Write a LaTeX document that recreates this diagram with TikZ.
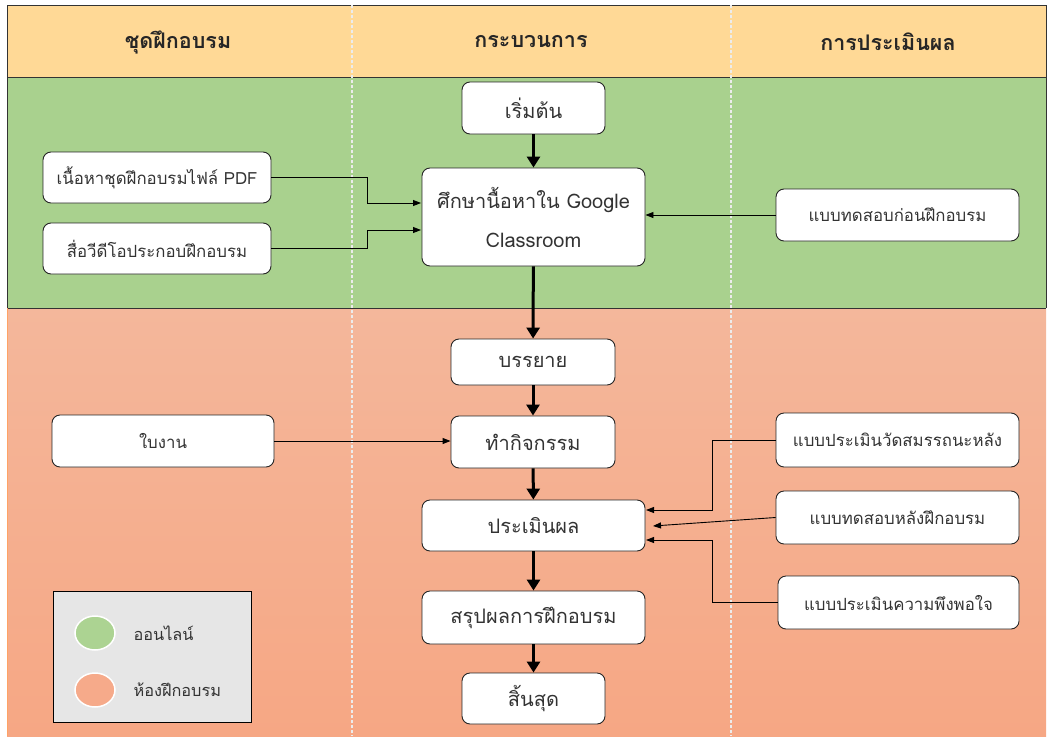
\documentclass[tikz,border=0pt]{standalone}
\usepackage{fontspec}
\usetikzlibrary{arrows.meta,positioning,shapes.geometric}
\newfontfamily\thai[Script=Thai]{Loma}
\definecolor{hdr}{RGB}{255,217,150}
\definecolor{grn}{RGB}{169,209,142}
\definecolor{salT}{RGB}{244,183,155}
\definecolor{salB}{RGB}{246,167,132}
\definecolor{lgd}{RGB}{230,230,230}
\definecolor{lgrn}{RGB}{172,211,146}
\definecolor{lsal}{RGB}{246,170,138}
\tikzset{
  box/.style={draw=black!85,fill=white,rounded corners=8pt,line width=0.9pt,align=center,inner sep=0pt,font=\thai\fontsize{16.8}{38}\selectfont,text=black!80},
  cbox/.style={box,font=\thai\fontsize{20}{39}\selectfont},
  flow/.style={line width=3pt,-{Triangle[length=11pt,width=13pt]}},
  link/.style={line width=0.9pt,-{Triangle[length=8pt,width=6pt]}},
  hdrtext/.style={font=\thai\bfseries\fontsize{21.5}{24}\selectfont,text=black!85},
  sep/.style={white!85!gray,line width=2pt,dash pattern=on 2.5pt off 2.5pt},
}
\begin{document}
\begin{tikzpicture}[x=1pt,y=-1pt]
\useasboundingbox (0,0) rectangle (1049,736);
% backgrounds
\fill[hdr] (7,5) rectangle (1046,77);
\fill[grn] (7,77) rectangle (1046,308);
\shade[top color=salT,bottom color=salB] (7,308) rectangle (1046,736);
\draw[black!80,line width=1pt] (7,77) -- (1046,77);
\draw[black!80,line width=1pt] (7,308) -- (1046,308);
\draw[black!80,line width=1pt] (7,308) |- (7,5) -| (1046,308);
\draw[orange!80!red!60,line width=1pt] (7,308) -- (7,736);
% column separators
\draw[sep] (352,5) -- (352,736);
\draw[sep] (731,5) -- (731,736);
% headers
\node[hdrtext] (h1) at (178,42) {ชุดฝึกอบรม};
\node[hdrtext] (h2) at (531,42) {กระบวนการ};
\node[hdrtext] (h3) at (888,42) {การประเมินผล};
% center flow
\node[cbox,minimum width=143pt,minimum height=52pt] (start) at (533.5,108) {เริ่มต้น};
\node[cbox,minimum width=223pt,minimum height=98pt] (study) at (533.5,217) {ศึกษานื้อหาใน Google\\Classroom};
\node[cbox,minimum width=164pt,minimum height=46pt] (lect) at (533,362) {บรรยาย};
\node[cbox,minimum width=164pt,minimum height=52pt] (act) at (533,442) {ทำกิจกรรม};
\node[cbox,minimum width=223pt,minimum height=51pt] (eval) at (533.5,525.5) {ประเมินผล};
\node[cbox,minimum width=223pt,minimum height=53pt] (sum) at (533.5,617.5) {สรุปผลการฝึกอบรม};
\node[cbox,minimum width=143pt,minimum height=51pt] (end) at (533.5,698.5) {สิ้นสุด};
% left
\node[box,minimum width=228pt,minimum height=51pt] (pdf) at (157,177.5) {เนื้อหาชุดฝึกอบรมไฟล์ PDF};
\node[box,minimum width=228pt,minimum height=51pt] (vid) at (157,248.5) {สื่อวีดีโอประกอบฝึกอบรม};
\node[box,minimum width=222pt,minimum height=52pt] (ws) at (163,441) {ใบงาน};
% right
\node[box,minimum width=243pt,minimum height=52pt] (pre) at (897.5,215) {แบบทดสอบก่อนฝึกอบรม};
\node[box,minimum width=243pt,minimum height=54pt] (comp) at (897.5,440) {แบบประเมินวัดสมรรถนะหลัง};
\node[box,minimum width=243pt,minimum height=53pt] (post) at (897.5,517.5) {แบบทดสอบหลังฝึกอบรม};
\node[box,minimum width=241pt,minimum height=53pt] (sat) at (898.5,602.5) {แบบประเมินความพึงพอใจ};
% flow arrows
\draw[flow] (start) -- (study);
\draw[flow] (study) -- (lect);
\draw[flow] (lect) -- (act);
\draw[flow] (act) -- (eval);
\draw[flow] (eval) -- (sum);
\draw[flow] (sum) -- (end);
% links
\coordinate (pdfIn) at (421,203);
\coordinate (vidIn) at (421,230);
\draw[link] (pdf.east) -| (367,203) -- (pdfIn);
\draw[link] (vid.east) -| (367,230) -- (vidIn);
\draw[link] (pre.west) -- (study.east |- pre.west);
\draw[link] (ws.east) -- (act.west |- ws.east);
\coordinate (eA) at (646,510);
\coordinate (eB) at (653,526);
\coordinate (eC) at (646,540);
\draw[link] (comp.west) -| (712,510) -- (eA);
\draw[link] (post.west) -- (eB);
\draw[link] (sat.west) -| (712,540) -- (eC);
% legend
\node[draw=black,fill=lgd,line width=1pt,minimum width=198pt,minimum height=131pt,inner sep=0pt] (leg) at (152,656.5) {};
\node[ellipse,draw=white,line width=1.5pt,fill=lgrn,minimum width=40pt,minimum height=34pt,inner sep=0pt] (c1) at (95,633) {};
\node[ellipse,draw=white,line width=1.5pt,fill=lsal,minimum width=40pt,minimum height=34pt,inner sep=0pt] (c2) at (95,690) {};
\node[anchor=west,font=\thai\fontsize{16.3}{20}\selectfont,text=black!80] (l1) at (130,633) {ออนไลน์};
\node[anchor=west,font=\thai\fontsize{16.3}{20}\selectfont,text=black!80] (l2) at (130,690) {ห้องฝึกอบรม};
\end{tikzpicture}
\end{document}
